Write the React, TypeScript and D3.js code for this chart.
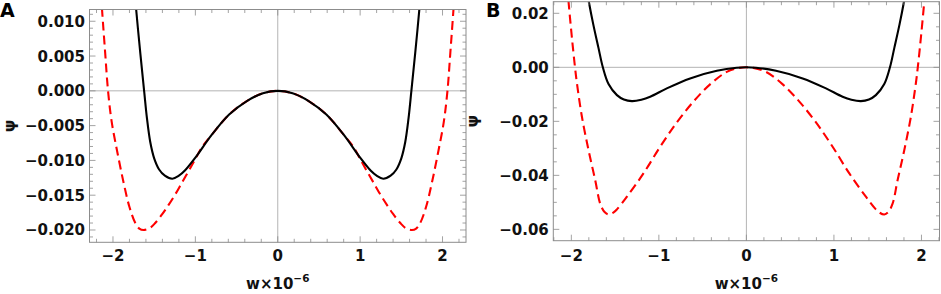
import React from 'react';
import * as d3 from 'd3';

// ---------- data (w in units of 1e-6, psi) ----------
const blackA: [number, number][] = [
  [-1.76, 0.0175], [-1.721, 0.0120], [-1.669, 0.0055], [-1.622, 0.0], [-1.587, -0.0040],
  [-1.547, -0.0074], [-1.50, -0.0097], [-1.44, -0.0113], [-1.37, -0.0122], [-1.28, -0.01263],
  [-1.20, -0.0122], [-1.13, -0.0115], [-1.0, -0.0096], [-0.8, -0.0063], [-0.59, -0.0034],
  [-0.38, -0.0015], [-0.18, -0.00035], [0, 0],
  [0.18, -0.00035], [0.38, -0.0015], [0.59, -0.0034], [0.8, -0.0063], [1.0, -0.0096],
  [1.13, -0.0115], [1.20, -0.0122], [1.28, -0.01263], [1.37, -0.0122], [1.44, -0.0113],
  [1.50, -0.0097], [1.547, -0.0074], [1.587, -0.0040], [1.622, 0.0], [1.669, 0.0055],
  [1.721, 0.0120], [1.76, 0.0175],
];
const redA: [number, number][] = [
  [-2.18, 0.0200], [-2.133, 0.0117], [-2.095, 0.0055], [-2.060, 0.0], [-2.015, -0.0045],
  [-1.944, -0.0090], [-1.871, -0.0132], [-1.800, -0.0167], [-1.729, -0.0190], [-1.680, -0.0198],
  [-1.629, -0.0200], [-1.55, -0.0197], [-1.487, -0.0190], [-1.40, -0.0177], [-1.325, -0.0164],
  [-1.24, -0.0148], [-1.163, -0.0132], [-1.08, -0.0115], [-1.0, -0.0098], [-0.92, -0.0081],
  [-0.8, -0.0063], [-0.59, -0.0034], [-0.38, -0.0015], [-0.18, -0.00035], [0, 0],
  [0.18, -0.00035], [0.38, -0.0015], [0.59, -0.0034], [0.8, -0.0063], [0.92, -0.0081],
  [1.0, -0.0098], [1.08, -0.0115], [1.163, -0.0132], [1.24, -0.0148], [1.325, -0.0164],
  [1.40, -0.0177], [1.487, -0.0190], [1.55, -0.0197], [1.629, -0.0200], [1.680, -0.0198],
  [1.729, -0.0190], [1.800, -0.0167], [1.871, -0.0132], [1.944, -0.0090], [2.015, -0.0045],
  [2.060, 0.0], [2.095, 0.0055], [2.133, 0.0117], [2.18, 0.0200],
];
const blackB: [number, number][] = [
  [-1.84, 0.032], [-1.80, 0.0243], [-1.75, 0.0160], [-1.69, 0.0072], [-1.64, 0.0],
  [-1.575, -0.0062], [-1.479, -0.0103], [-1.40, -0.0119], [-1.308, -0.0125], [-1.20, -0.0120],
  [-1.099, -0.0109], [-0.909, -0.0078], [-0.643, -0.0041], [-0.338, -0.0013], [-0.110, -0.00015],
  [0, 0],
  [0.110, -0.00015], [0.338, -0.0013], [0.643, -0.0041], [0.909, -0.0078], [1.099, -0.0109],
  [1.20, -0.0120], [1.308, -0.0125], [1.40, -0.0119], [1.479, -0.0103], [1.575, -0.0062],
  [1.64, 0.0], [1.69, 0.0072], [1.75, 0.0160], [1.80, 0.0243], [1.84, 0.032],
];
const redB: [number, number][] = [
  [-2.06, 0.035], [-2.032, 0.0243], [-1.995, 0.0115], [-1.958, 0.0], [-1.936, -0.0059],
  [-1.879, -0.0183], [-1.804, -0.0306], [-1.727, -0.0418], [-1.67, -0.0505], [-1.62, -0.0536],
  [-1.575, -0.0545], [-1.52, -0.0538], [-1.479, -0.0526], [-1.365, -0.0479], [-1.176, -0.0393],
  [-0.985, -0.0294], [-0.795, -0.0204], [-0.605, -0.0127], [-0.415, -0.0063], [-0.224, -0.0017],
  [-0.08, -0.0002], [0, 0],
  [0.08, -0.0002], [0.224, -0.0017], [0.415, -0.0063], [0.605, -0.0127], [0.795, -0.0204],
  [0.985, -0.0294], [1.176, -0.0393], [1.365, -0.0479], [1.479, -0.0526], [1.52, -0.0538],
  [1.575, -0.0545], [1.62, -0.0536], [1.67, -0.0505], [1.727, -0.0418], [1.804, -0.0306],
  [1.879, -0.0183], [1.936, -0.0059], [1.958, 0.0], [1.995, 0.0115], [2.032, 0.0243], [2.06, 0.035],
];

const xTicks = [-2, -1, 0, 1, 2];
const yTicksA = [0.010, 0.005, 0.0, -0.005, -0.010, -0.015, -0.020];
const yTicksB = [0.02, 0.0, -0.02, -0.04, -0.06];
const panelLetters = ['A', 'B'];
const xTitle = 'w×10';
const xTitleSup = '−6';
const yTitle = 'ψ';

// ---------- layout ----------
const W = 941, H = 294;
const FONT = 'DejaVu Sans, Verdana, sans-serif';
const FRAME = '#8c8c8c';
const ZERO = '#b4b4b4';

interface PanelCfg {
  letter: string; letterX: number; yTitleX: number;
  left: number; right: number; top: number; bottom: number;
  xDom: [number, number]; yDom: [number, number];
  yTicks: number[]; yMinor: number; yFmt: string;
  black: [number, number][]; red: [number, number][];
}

const panels: PanelCfg[] = [
  {
    letter: panelLetters[0], letterX: 0, yTitleX: 15,
    left: 89.5, right: 466, top: 9.5, bottom: 242.3,
    xDom: [-2.285, 2.285], yDom: [-0.02177, 0.01169],
    yTicks: yTicksA, yMinor: 0.001, yFmt: '.3f', black: blackA, red: redA,
  },
  {
    letter: panelLetters[1], letterX: 486, yTitleX: 478,
    left: 553.3, right: 939.5, top: 1.7, bottom: 240.7,
    xDom: [-2.206, 2.206], yDom: [-0.0642, 0.0243],
    yTicks: yTicksB, yMinor: 0.005, yFmt: '.2f', black: blackB, red: redB,
  },
];

function Panel({ p, idx }: { p: PanelCfg; idx: number }) {
  const x = d3.scaleLinear().domain(p.xDom).range([p.left, p.right]);
  const y = d3.scaleLinear().domain(p.yDom).range([p.bottom, p.top]);
  const line = d3.line<[number, number]>().x(d => x(d[0])).y(d => y(d[1])).curve(d3.curveCatmullRom.alpha(0.5));
  const fmtY = d3.format(p.yFmt);
  const fmtX = d3.format('d');

  const xMinor = d3.range(Math.ceil(p.xDom[0] / 0.2), Math.floor(p.xDom[1] / 0.2) + 1).map(k => +(k * 0.2).toFixed(6));
  const yMinor = d3.range(Math.ceil(p.yDom[0] / p.yMinor), Math.floor(p.yDom[1] / p.yMinor) + 1).map(k => +(k * p.yMinor).toFixed(6));
  const isMajX = (v: number) => xTicks.some(t => Math.abs(t - v) < 1e-6);
  const isMajY = (v: number) => p.yTicks.some(t => Math.abs(t - v) < 1e-7);
  const MAJ = 6, MIN = 3.5;
  const clipId = `clip${idx}`;
  const cx = (p.left + p.right) / 2;
  const cy = (p.top + p.bottom) / 2;

  return (
    <g>
      <defs>
        <clipPath id={clipId}>
          <rect x={p.left} y={p.top} width={p.right - p.left} height={p.bottom - p.top} />
        </clipPath>
      </defs>
      <line x1={x(0)} x2={x(0)} y1={p.top} y2={p.bottom} stroke={ZERO} strokeWidth={1} />
      <line x1={p.left} x2={p.right} y1={y(0)} y2={y(0)} stroke={ZERO} strokeWidth={1} />
      <g clipPath={`url(#${clipId})`}>
        <path d={line(p.red) || ''} fill="none" stroke="#ff0000" strokeWidth={2.1} strokeDasharray="9,5" />
        <path d={line(p.black) || ''} fill="none" stroke="#000" strokeWidth={2.1} />
      </g>
      <rect x={p.left} y={p.top} width={p.right - p.left} height={p.bottom - p.top} fill="none" stroke={FRAME} strokeWidth={1} />
      {xMinor.map((v, i) => {
        const L = isMajX(v) ? MAJ : MIN;
        return (
          <g key={`xt${i}`} stroke={FRAME} strokeWidth={0.8}>
            <line x1={x(v)} x2={x(v)} y1={p.bottom} y2={p.bottom - L} />
            <line x1={x(v)} x2={x(v)} y1={p.top} y2={p.top + L} />
          </g>
        );
      })}
      {yMinor.map((v, i) => {
        const L = isMajY(v) ? MAJ : MIN;
        return (
          <g key={`yt${i}`} stroke={FRAME} strokeWidth={0.8}>
            <line x1={p.left} x2={p.left + L} y1={y(v)} y2={y(v)} />
            <line x1={p.right} x2={p.right - L} y1={y(v)} y2={y(v)} />
          </g>
        );
      })}
      {xTicks.map(t => (
        <text key={`xl${t}`} x={x(t)} y={261} textAnchor="middle" fontFamily={FONT} fontWeight="bold" fontSize={15} fill="#111">
          {fmtX(t)}
        </text>
      ))}
      {p.yTicks.map(t => (
        <text key={`yl${t}`} x={p.left - 4.5} y={y(t) + 5.5} textAnchor="end" fontFamily={FONT} fontWeight="bold" fontSize={15} fill="#111">
          {fmtY(t)}
        </text>
      ))}
      <text x={cx} y={289} textAnchor="middle" fontFamily={FONT} fontWeight="bold" fontSize={15} fill="#111">
        {xTitle}
        <tspan fontSize={10.5} dy={-7}>{xTitleSup}</tspan>
      </text>
      <text transform={`translate(${p.yTitleX},${cy}) rotate(-90)`} textAnchor="middle" fontFamily={FONT} fontWeight="bold" fontSize={16} fill="#111">
        {yTitle}
      </text>
      <text x={p.letterX} y={17} fontFamily={FONT} fontWeight="bold" fontSize={19} fill="#000">
        {p.letter}
      </text>
    </g>
  );
}

export default function App() {
  return (
    <svg width={W} height={H} viewBox={`0 0 ${W} ${H}`} style={{ position: 'absolute', left: 0, top: 0, background: '#fff' }}>
      <rect x={0} y={0} width={W} height={H} fill="#fff" />
      {panels.map((p, i) => <Panel key={p.letter} p={p} idx={i} />)}
    </svg>
  );
}
